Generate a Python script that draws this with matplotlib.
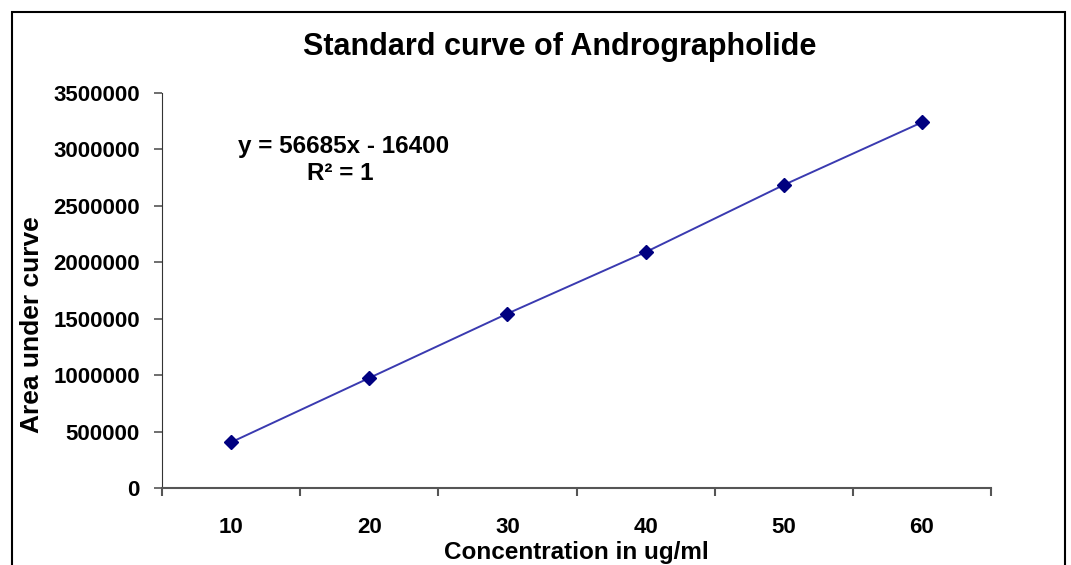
import numpy as np
import matplotlib
matplotlib.use("Agg")
import matplotlib.pyplot as plt
from matplotlib.patches import Rectangle

# data
concentrations = ["10", "20", "30", "40", "50", "60"]
area = [405000, 975000, 1545000, 2090000, 2685000, 3240000]
y_ticks = [0, 500000, 1000000, 1500000, 2000000, 2500000, 3000000, 3500000]

plt.rcParams['font.family'] = ['Liberation Sans', 'DejaVu Sans']
plt.rcParams['font.weight'] = 'bold'

fig = plt.figure(figsize=(10.71, 5.65), dpi=100)
ax = fig.add_axes([162/1071, 1 - 488/565, (991 - 162)/1071, (488 - 93)/565])

# outer chart frame (bottom edge falls outside the image)
fig.patches.append(Rectangle((12/1071, -0.1), (1065 - 12)/1071, 1.1 - 12/565,
                             transform=fig.transFigure, fill=False,
                             edgecolor='black', linewidth=1.5))

x = np.arange(len(concentrations))
ax.plot(x, area, color='#3a3ab0', linewidth=1.4, marker='D', markersize=7,
        markerfacecolor='#000080', markeredgecolor='#000080')

ax.set_xlim(-0.5, len(concentrations) - 0.5)
ax.set_ylim(0, 3500000)
ax.set_yticks(y_ticks)
ax.set_yticklabels([str(v) for v in y_ticks])

# category axis: ticks at boundaries, labels centred
ax.set_xticks(np.arange(len(concentrations) + 1) - 0.5)
ax.set_xticklabels([])
ax.set_xticks(x, minor=True)
ax.set_xticklabels(concentrations, minor=True)
ax.tick_params(axis='x', which='major', length=6, color='#555555', width=1.5)
ax.tick_params(axis='x', which='minor', length=0, pad=21, labelsize=16)
ax.tick_params(axis='y', length=6, color='#555555', width=1.2, labelsize=16, pad=10)

for s in ['top', 'right']:
    ax.spines[s].set_visible(False)
ax.spines['left'].set_color('#333333')
ax.spines['bottom'].set_color('#555555')
ax.spines['bottom'].set_linewidth(1.5)

fig.text(560/1071, 1 - 47/565, "Standard curve of Andrographolide",
         ha='center', va='center', fontsize=22, fontweight='bold')
fig.text(344/1071, 1 - 146/565, "y = 56685x - 16400", ha='center', va='center',
         fontsize=17.5, fontweight='bold')
fig.text(340/1071, 1 - 173/565, "R² = 1", ha='center', va='center',
         fontsize=17.5, fontweight='bold')
fig.text(32/1071, 1 - 325/565, "Area under curve", rotation=90, ha='center',
         va='center', fontsize=19, fontweight='bold')
fig.text(576/1071, 1 - 553/565, "Concentration in ug/ml", ha='center',
         va='center', fontsize=17.5, fontweight='bold')

fig.savefig("out.png", dpi=100)
